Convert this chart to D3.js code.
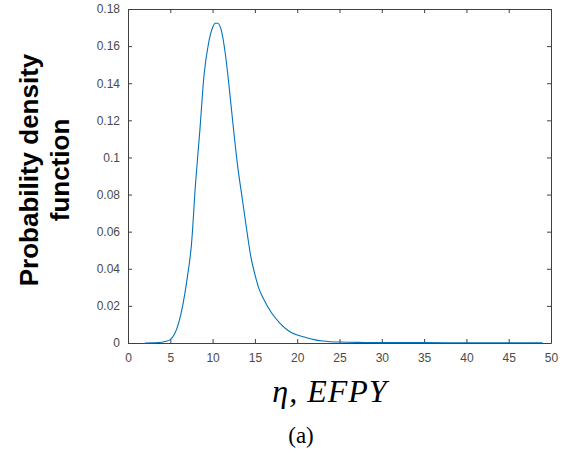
<!DOCTYPE html>
<html>
<head>
<meta charset="utf-8">
<script src="https://cdn.jsdelivr.net/npm/d3@7"></script>
<style>
  body { margin: 0; background: #fff; }
  svg { display: block; }
</style>
</head>
<body>
<svg id="chart" width="567" height="455"></svg>
<script>
// EFPY values (x) and density values (y)
const eta = [2, 3, 4, 4.5, 5, 5.5, 6, 6.5, 7, 7.5, 8, 8.5, 9, 9.5, 10, 10.3, 10.6, 11, 11.5, 12, 12.5, 13, 13.5, 14, 14.5, 15, 15.5, 16, 17, 18, 19, 20, 21, 22, 23, 25, 28, 30, 35, 40, 45, 49];
const pdf = [0, 0.0001, 0.0004, 0.0009, 0.0018, 0.0048, 0.011, 0.021, 0.035, 0.053, 0.087, 0.115, 0.145, 0.161, 0.170, 0.1723, 0.1723, 0.169, 0.156, 0.136, 0.114, 0.094, 0.078, 0.062, 0.047, 0.037, 0.029, 0.024, 0.016, 0.0105, 0.0065, 0.0043, 0.003, 0.0018, 0.0011, 0.0005, 0.0003, 0.0002, 0.0002, 0.0001, 0.0001, 0.0001];
const xTicks = [0, 5, 10, 15, 20, 25, 30, 35, 40, 45, 50];
const yTicks = [0, 0.02, 0.04, 0.06, 0.08, 0.1, 0.12, 0.14, 0.16, 0.18];

const plotLeft = 128, plotRight = 551, plotTop = 9, plotBottom = 343;
const svg = d3.select("#chart");

const x = d3.scaleLinear().domain([0, 50]).range([plotLeft, plotRight]);
const y = d3.scaleLinear().domain([0, 0.18]).range([plotBottom, plotTop]);

const axisColor = "#404040";
const tickFont = "Liberation Sans, Arial, sans-serif";

function styleAxis(g, hideText) {
  g.select(".domain").attr("stroke", axisColor);
  g.selectAll(".tick line").attr("stroke", axisColor);
  g.selectAll(".tick text")
    .attr("fill", "#4a4a4a")
    .style("font-family", tickFont)
    .style("font-size", "12px");
  if (hideText) g.selectAll(".tick text").remove();
}

// bottom and left axes with labels, inward ticks
svg.append("g")
  .attr("transform", `translate(0,${plotBottom})`)
  .call(d3.axisBottom(x).tickValues(xTicks).tickSizeInner(-4).tickSizeOuter(0).tickPadding(10))
  .call(g => styleAxis(g, false));

svg.append("g")
  .attr("transform", `translate(${plotLeft},0)`)
  .call(d3.axisLeft(y).tickValues(yTicks).tickFormat(d3.format("~g")).tickSizeInner(-4).tickSizeOuter(0).tickPadding(8))
  .call(g => styleAxis(g, false));

// top and right box axes
svg.append("g")
  .attr("transform", `translate(0,${plotTop})`)
  .call(d3.axisTop(x).tickValues(xTicks).tickSizeInner(-4).tickSizeOuter(0))
  .call(g => styleAxis(g, true));

svg.append("g")
  .attr("transform", `translate(${plotRight},0)`)
  .call(d3.axisRight(y).tickValues(yTicks).tickSizeInner(-4).tickSizeOuter(0))
  .call(g => styleAxis(g, true));

// density curve
const line = d3.line()
  .x((d, i) => x(eta[i]))
  .y(d => y(d))
  .curve(d3.curveMonotoneX);

svg.append("path")
  .datum(pdf)
  .attr("fill", "none")
  .attr("stroke", "#0072bd")
  .attr("stroke-width", 1.1)
  .attr("d", line);

// y label, two lines
const yl = svg.append("text")
  .attr("transform", `translate(0,170) rotate(-90)`)
  .attr("text-anchor", "middle")
  .style("font-family", "Liberation Sans, Arial, sans-serif")
  .style("font-weight", "bold")
  .style("font-size", "26px")
  .attr("fill", "#000");
yl.append("tspan").attr("x", 0).attr("y", 38).text("Probability density");
yl.append("tspan").attr("x", 0).attr("y", 69).text("function");

// x label
svg.append("text")
  .attr("x", 330)
  .attr("y", 402)
  .attr("text-anchor", "middle")
  .style("font-family", "Liberation Serif, Times New Roman, serif")
  .style("font-style", "italic")
  .style("font-size", "32px")
  .style("letter-spacing", "1px")
  .attr("fill", "#000")
  .text("η, EFPY");

// caption
svg.append("text")
  .attr("x", 301)
  .attr("y", 443)
  .attr("text-anchor", "middle")
  .style("font-family", "Liberation Serif, Times New Roman, serif")
  .style("font-size", "23px")
  .attr("fill", "#000")
  .text("(a)");
</script>
</body>
</html>
